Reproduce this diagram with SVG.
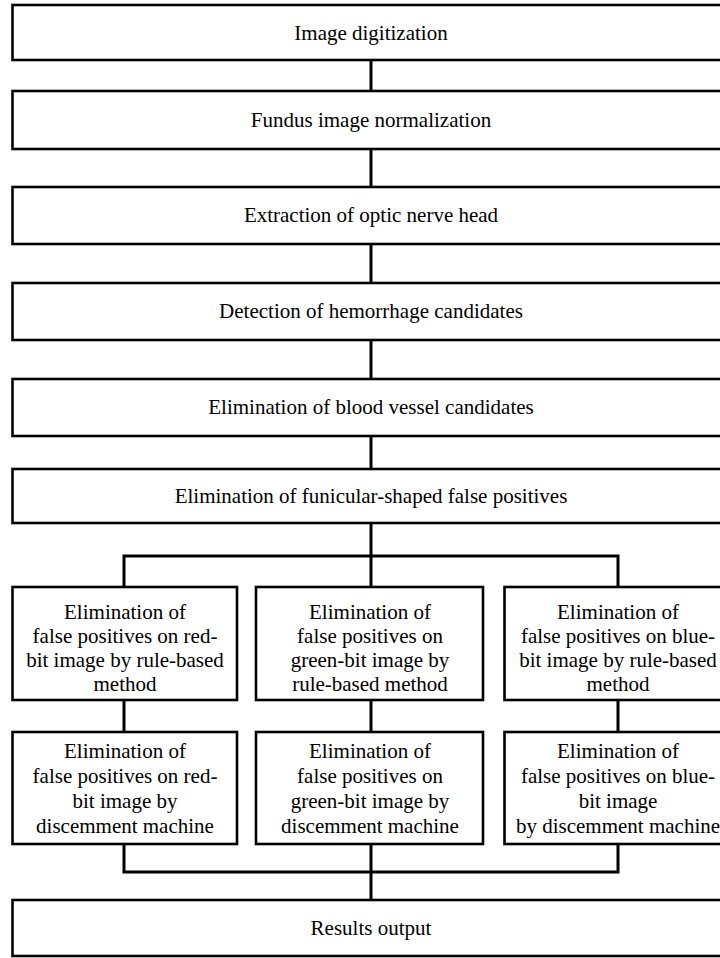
<svg xmlns="http://www.w3.org/2000/svg" width="720" height="958" viewBox="0 0 720 958">
<style>
.box{fill:#fff;stroke:#000;stroke-width:2.6}
.ln{fill:none;stroke:#000;stroke-width:3}
</style>
<rect width="720" height="958" fill="#fff"/>
<g id="connectors">
<path class="ln" d="M371 60V91M371 149V187M371 244V283M371 340V379M371 436V469M371 523V556M124 587V556H618V587M371 556V587"/>
<path class="ln" d="M124 700V732M371 700V732M618 700V732"/>
<path class="ln" d="M124 844V872H618V844M371 844V900"/>
</g>
<g font-family="Liberation Serif, Times New Roman, serif" font-size="21" text-anchor="middle" fill="#000">
<g id="n1"><rect class="box" x="12.5" y="5" width="740" height="55"/><text x="371" y="40">Image digitization</text></g>
<g id="n2"><rect class="box" x="12.5" y="91" width="740" height="58"/><text x="371" y="127">Fundus image normalization</text></g>
<g id="n3"><rect class="box" x="12.5" y="187" width="740" height="57"/><text x="371" y="222">Extraction of optic nerve head</text></g>
<g id="n4"><rect class="box" x="12.5" y="283" width="740" height="57"/><text x="371" y="318">Detection of hemorrhage candidates</text></g>
<g id="n5"><rect class="box" x="12.5" y="379" width="740" height="57"/><text x="371" y="414">Elimination of blood vessel candidates</text></g>
<g id="n6"><rect class="box" x="12.5" y="469" width="740" height="54"/><text x="371" y="503">Elimination of funicular-shaped false positives</text></g>
<g id="r1"><rect class="box" x="12.5" y="587" width="224.5" height="113"/>
<text x="125" y="619">Elimination of</text><text x="125" y="643">false positives on red-</text><text x="125" y="667">bit image by rule-based</text><text x="125" y="691">method</text></g>
<g id="g1"><rect class="box" x="256" y="587" width="227" height="113"/>
<text x="370" y="619">Elimination of</text><text x="370" y="643">false positives on</text><text x="370" y="667">green-bit image by</text><text x="370" y="691">rule-based method</text></g>
<g id="b1"><rect class="box" x="504.5" y="587" width="240" height="113"/>
<text x="618" y="619">Elimination of</text><text x="618" y="643">false positives on blue-</text><text x="618" y="667">bit image by rule-based</text><text x="618" y="691">method</text></g>
<g id="r2"><rect class="box" x="12.5" y="732" width="224.5" height="112"/>
<text x="125" y="758">Elimination of</text><text x="125" y="783">false positives on red-</text><text x="125" y="808">bit image by</text><text x="125" y="833">discemment machine</text></g>
<g id="g2"><rect class="box" x="256" y="732" width="227" height="112"/>
<text x="370" y="758">Elimination of</text><text x="370" y="783">false positives on</text><text x="370" y="808">green-bit image by</text><text x="370" y="833">discemment machine</text></g>
<g id="b2"><rect class="box" x="504.5" y="732" width="240" height="112"/>
<text x="618" y="758">Elimination of</text><text x="618" y="783">false positives on blue-</text><text x="618" y="808">bit image</text><text x="618" y="833">by discemment machine</text></g>
<g id="out"><rect class="box" x="12.5" y="900" width="740" height="56"/><text x="371" y="935">Results output</text></g>
</g>
</svg>
